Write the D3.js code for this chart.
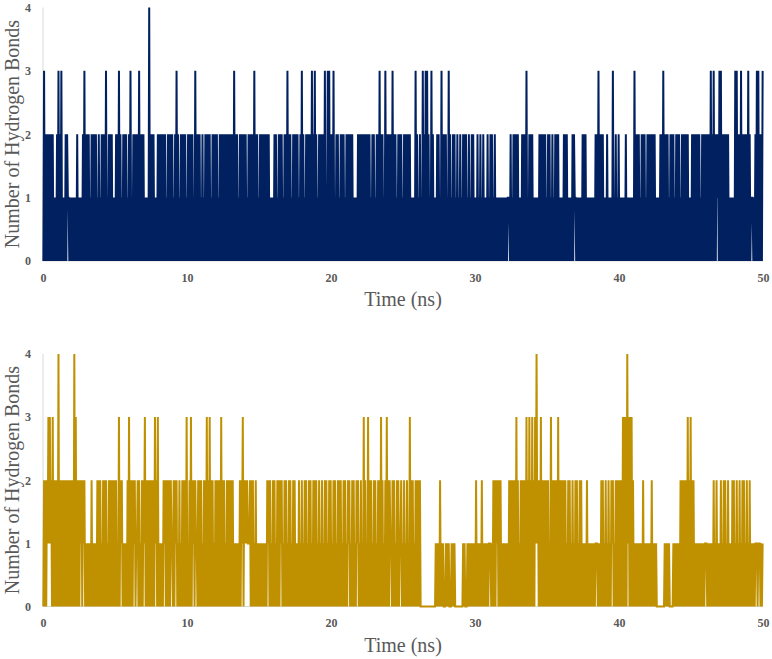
<!DOCTYPE html>
<html>
<head>
<meta charset="utf-8">
<script src="https://cdn.jsdelivr.net/npm/d3@7/dist/d3.min.js"></script>
<style>
  html, body { margin: 0; padding: 0; background: #ffffff; }
  svg { display: block; }
  text { font-family: "Liberation Serif", "Times New Roman", "DejaVu Serif", serif; }
</style>
</head>
<body>
<svg id="chart" width="772" height="659"></svg>
<script>
// ---------------- DATA ----------------
// Time resolution of the bins (ns); each bin keeps the lowest and highest
// number of hydrogen bonds seen inside it.
const timeStep = 0.1;
const xTicks = [0, 10, 20, 30, 40, 50];
const yTicks = [0, 1, 2, 3, 4];
const xLabel = "Time (ns)";
const yLabel = "Number of Hydrogen Bonds";

// Top panel (navy) - highest value per 0.1 ns bin, one row per ns
const topMax = [
  3,2,2,2,2,2,2,1,1,2,
  3,2,3,1,1,2,2,1,1,1,
  1,1,1,2,1,1,1,2,3,2,
  2,2,1,2,2,2,2,1,2,1,
  2,2,2,3,1,2,2,2,1,1,
  2,2,3,2,1,2,2,2,1,2,
  3,1,2,2,2,2,3,2,2,2,
  1,1,1,4,2,2,2,1,1,2,
  2,2,2,2,2,1,2,2,2,2,
  1,2,3,2,1,2,2,2,2,1,
  2,2,2,2,1,3,2,2,2,1,
  2,1,2,2,2,2,1,2,2,2,
  2,1,2,2,2,2,2,2,2,2,
  2,2,3,2,2,1,2,2,2,2,
  2,1,2,2,2,2,3,2,2,1,
  2,2,2,2,2,2,2,1,1,1,
  2,2,1,2,2,2,1,2,2,3,
  2,2,1,2,2,2,2,1,2,3,
  2,1,2,2,2,2,3,2,3,2,
  1,2,2,2,2,3,1,3,3,2,
  2,3,1,2,2,1,2,2,2,1,
  2,2,2,2,2,1,1,1,2,2,
  2,2,2,2,2,2,2,1,2,2,
  1,2,2,3,2,2,1,3,2,2,
  2,2,3,2,2,1,2,2,2,1,
  2,2,2,2,2,1,1,1,3,2,
  1,2,1,3,2,3,3,2,1,3,
  2,1,1,2,2,1,3,2,2,2,
  1,3,2,1,2,2,1,2,1,2,
  1,2,2,2,1,2,1,2,2,1,
  1,2,1,2,1,2,1,1,2,1,
  2,2,1,2,1,1,1,1,1,1,
  1,1,1,1,2,1,2,2,2,2,
  1,1,2,2,2,3,1,2,2,2,
  1,1,1,1,2,2,2,2,2,1,
  2,2,1,2,1,2,2,2,1,1,
  1,2,2,2,1,1,1,2,2,1,
  1,1,1,1,2,2,2,1,1,1,
  1,1,1,2,2,3,2,2,2,1,
  1,2,1,1,1,3,1,2,1,2,
  1,1,1,1,2,1,1,1,1,1,
  3,2,2,2,1,2,2,2,1,2,
  2,2,2,2,2,1,1,1,2,2,
  3,2,2,2,1,2,2,2,1,2,
  2,2,1,2,2,2,2,2,1,1,
  2,2,2,2,2,2,1,2,2,2,
  2,2,2,3,2,3,2,2,2,3,
  3,2,2,2,2,2,1,1,1,1,
  3,3,2,2,3,2,2,2,2,3,
  2,1,1,1,2,3,3,2,2,3
];
// Top panel - lowest value per bin
const topMin = [
  0,0,0,0,0,0,0,0,0,0,  0,0,0,0,0,0,0,1,0,0,
  0,0,0,0,0,0,0,0,0,0,  0,0,0,0,0,0,0,0,0,0,
  0,0,0,0,0,0,0,0,0,0,  0,0,0,0,0,0,0,0,0,0,
  0,0,0,0,0,0,0,0,0,0,  0,0,0,0,0,0,0,0,0,0,
  0,0,0,0,0,0,0,0,0,0,  0,0,0,0,0,0,0,0,0,0,
  0,0,0,0,0,0,0,0,0,0,  0,0,0,0,0,0,0,0,0,0,
  0,0,0,0,0,0,0,0,0,0,  0,0,0,0,0,0,0,0,0,0,
  0,0,0,0,0,0,0,0,0,0,  0,0,0,0,0,0,0,0,0,0,
  0,0,0,0,0,0,0,0,0,0,  0,0,0,0,0,0,0,0,0,0,
  0,0,0,0,0,0,0,0,0,0,  0,0,0,0,0,0,0,0,0,0,
  0,0,0,0,0,0,0,0,0,0,  0,0,0,0,0,0,0,0,0,0,
  0,0,0,0,0,0,0,0,0,0,  0,0,0,0,0,0,0,0,0,0,
  0,0,0,0,0,0,0,0,0,0,  0,0,0,0,0,0,0,0,0,0,
  0,0,0,0,0,0,0,0,0,0,  0,0,0,0,0,0,0,0,0,0,
  0,0,0,0,0,0,0,0,0,0,  0,0,0,0,0,0,0,0,0,0,
  0,0,0,0,0,0,0,0,0,0,  0,0,0,0,0,0,0,0,0,0,
  0,0,0,1,0,0,0,0,0,0,  0,0,0,0,0,0,0,0,0,0,
  0,0,0,0,0,0,0,0,0,0,  0,0,0,0,0,0,0,0,0,0,
  0,0,0,0,0,0,0,0,0,1,  0,0,0,0,0,0,0,0,0,0,
  0,0,0,0,0,0,0,0,0,0,  0,0,0,0,0,0,0,0,0,0,
  0,0,0,0,0,0,0,0,0,0,  0,0,0,0,0,0,0,0,0,0,
  0,0,0,0,0,0,0,0,0,0,  0,0,0,0,0,0,0,0,0,0,
  0,0,0,0,0,0,0,0,0,0,  0,0,0,0,0,0,0,0,0,0,
  0,0,0,0,0,0,0,0,1,0,  0,0,0,0,0,0,0,0,0,0,
  0,0,0,0,0,0,0,0,0,0,  0,0,1,0,0,0,0,0,0,0
];

// Bottom panel (gold) - highest value per 0.1 ns bin
const bottomMax = [
  2,2,2,3,3,2,3,2,2,2,
  4,2,2,2,2,2,2,2,2,2,
  2,4,3,2,2,2,2,2,2,1,
  1,1,1,2,1,1,1,2,2,2,
  1,2,2,2,1,2,2,2,2,2,
  2,1,3,2,2,1,1,1,2,3,
  2,2,2,2,1,2,2,1,2,2,
  3,2,2,2,2,2,2,3,2,3,
  1,1,1,2,2,2,2,2,2,1,
  2,2,2,1,2,1,2,2,2,3,
  1,2,3,2,2,2,1,2,2,2,
  1,2,2,3,2,3,2,2,1,2,
  2,2,2,3,2,2,1,2,2,2,
  2,2,1,1,1,1,2,2,3,2,
  2,2,1,2,2,2,1,2,1,1,
  1,1,1,1,1,2,2,2,1,2,
  2,1,2,2,2,2,1,2,2,1,
  2,2,1,2,2,1,1,2,1,2,
  1,2,2,1,2,2,1,2,2,2,
  1,2,1,2,1,2,2,1,2,2,
  1,2,2,1,2,2,2,1,2,2,
  1,2,2,1,2,2,1,2,2,1,
  2,1,3,2,1,3,2,2,1,2,
  2,1,2,2,3,2,1,2,3,2,
  2,1,2,2,1,2,2,1,2,1,
  2,1,2,1,3,2,2,1,2,2,
  2,2,0,0,0,0,0,0,0,0,
  0,0,1,1,1,2,1,1,0,1,
  1,1,0,1,1,1,0,0,0,0,
  0,1,1,0,1,1,1,1,1,1,
  2,1,1,1,2,1,1,1,1,1,
  1,1,2,2,2,2,2,2,1,1,
  1,1,1,2,2,2,2,2,3,2,
  1,2,2,2,2,3,2,3,2,3,
  2,3,4,2,2,3,2,2,2,2,
  2,1,3,2,2,2,2,3,2,2,
  2,2,2,1,2,2,1,2,1,2,
  2,1,2,2,1,1,1,2,1,1,
  1,1,1,1,1,1,1,2,2,1,
  2,1,2,1,2,2,1,2,2,2,
  2,2,3,3,3,4,3,3,3,2,
  1,1,1,1,1,1,2,1,1,1,
  1,1,2,1,1,1,0,0,0,0,
  0,1,1,1,1,0,0,1,1,1,
  1,1,2,2,2,2,2,3,2,3,
  2,2,1,1,1,1,1,1,1,1,
  1,1,1,1,1,2,1,2,1,1,
  2,1,2,2,1,2,1,1,2,2,
  1,2,1,2,1,2,2,1,2,1,
  2,1,1,1,1,1,1,1,1,1
];
// Bottom panel - lowest value per bin
const bottomMin = [
  0,0,0,1,1,1,0,0,0,0,  0,0,0,0,0,0,0,0,0,0,
  0,0,0,0,0,0,1,0,1,0,  0,0,0,0,0,0,0,0,0,0,
  0,0,0,0,0,0,0,0,0,0,  0,0,0,0,1,0,0,0,0,0,
  0,0,0,1,0,1,0,0,0,0,  1,0,0,0,0,0,0,0,1,0,
  0,0,0,0,1,0,0,0,0,1,  0,0,1,0,0,0,0,0,0,0,
  0,0,0,0,1,0,1,0,0,0,  0,0,0,0,0,0,0,0,0,0,
  0,0,0,0,0,0,0,0,0,0,  0,0,0,0,0,0,0,0,1,0,
  1,1,1,1,0,0,0,0,0,0,  0,0,0,0,0,0,1,0,0,0,
  0,0,0,0,0,1,0,0,0,0,  0,0,0,0,0,0,0,0,0,0,
  0,0,0,0,0,0,0,0,0,0,  0,0,0,0,0,0,0,0,0,0,
  0,0,0,0,0,0,0,0,0,0,  0,0,1,0,0,0,0,0,1,0,
  0,0,0,0,0,0,0,0,0,0,  0,0,0,0,0,0,0,0,0,0,
  0,1,0,0,0,0,0,0,1,0,  0,0,0,0,0,0,0,0,0,0,
  0,0,0,0,0,0,0,0,0,0,  0,0,0,0,0,0,0,0,0,0,
  0,0,0,0,0,0,0,0,0,0,  0,0,0,0,0,0,0,0,0,0,
  0,0,0,0,0,0,0,0,0,0,  1,0,0,0,0,1,0,0,0,0,
  0,0,0,0,0,0,0,0,0,0,  0,0,0,0,0,0,0,0,0,0,
  0,0,1,1,0,0,0,0,0,0,  0,0,0,0,0,0,0,0,0,0,
  0,0,0,0,0,0,0,0,0,0,  0,0,0,0,0,0,0,0,0,0,
  0,0,0,0,1,0,0,0,0,0,  0,0,0,0,0,1,0,0,0,0,
  0,0,0,0,0,0,1,0,0,0,  0,0,0,0,0,0,0,0,0,0,
  0,0,0,0,0,0,0,0,0,0,  0,0,0,0,0,0,0,0,0,0,
  0,0,0,0,0,0,0,0,0,0,  0,0,0,0,0,0,0,0,0,0,
  1,0,0,0,0,0,0,0,0,0,  0,0,0,0,0,0,0,0,0,0,
  0,0,0,0,0,0,0,0,0,0,  0,0,0,0,0,1,0,1,0,0
];

// ---------------- DRAWING ----------------
const svg = d3.select("#chart");
const x = d3.scaleLinear().domain([0, 50]).range([43, 763]);

const panels = [
  { max: topMax, min: topMin, color: "#002060", y0: 261, y4: 7.5, titleY: 134, xLabelY: 305.5 },
  { max: bottomMax, min: bottomMin, color: "#BF9000", y0: 606.5, y4: 354, titleY: 480, xLabelY: 651.5 }
];

const fontFamily = "Liberation Serif, Times New Roman, DejaVu Serif, serif";
const textColor = "#595959";

panels.forEach(p => {
  const y = d3.scaleLinear().domain([0, 4]).range([p.y0, p.y4]);
  const g = svg.append("g");

  // light axis lines
  g.append("line")
    .attr("x1", x(0)).attr("x2", x(0))
    .attr("y1", y(4)).attr("y2", y(0))
    .attr("stroke", "#d9d9d9").attr("stroke-width", 1);
  g.append("line")
    .attr("x1", x(0)).attr("x2", x(50))
    .attr("y1", y(0)).attr("y2", y(0))
    .attr("stroke", "#d9d9d9").attr("stroke-width", 1);

  // series: inside each bin the count swings between its min and max
  const pts = [];
  p.max.forEach((v, i) => {
    const t = i * timeStep;
    pts.push([t + timeStep * 0.25, p.min[i]]);
    pts.push([t + timeStep * 0.75, v]);
  });
  const line = d3.line().x(d => x(d[0])).y(d => y(d[1]));
  g.append("path")
    .datum(pts)
    .attr("d", line)
    .attr("fill", "none")
    .attr("stroke", p.color)
    .attr("stroke-width", 2);

  // x axis labels
  const ax = g.append("g")
    .attr("transform", `translate(0,${y(0)})`)
    .call(d3.axisBottom(x).tickValues(xTicks).tickSize(0).tickPadding(12).tickFormat(d3.format("d")));
  ax.select(".domain").remove();
  ax.attr("font-family", null);
  ax.selectAll("text")
    .style("font-family", fontFamily).attr("font-size", 12).attr("font-weight", "bold")
    .attr("fill", textColor);

  // y axis labels
  const ay = g.append("g")
    .attr("transform", `translate(${x(0)},0)`)
    .call(d3.axisLeft(y).tickValues(yTicks).tickSize(0).tickPadding(12).tickFormat(d3.format("d")));
  ay.select(".domain").remove();
  ay.attr("font-family", null);
  ay.selectAll("text")
    .style("font-family", fontFamily).attr("font-size", 12).attr("font-weight", "bold")
    .attr("fill", textColor);

  // axis titles
  g.append("text")
    .attr("x", 403).attr("y", p.xLabelY)
    .attr("text-anchor", "middle")
    .style("font-family", fontFamily).attr("font-size", 20)
    .attr("fill", textColor)
    .text(xLabel);
  g.append("text")
    .attr("transform", `translate(18.5,${p.titleY}) rotate(-90)`)
    .attr("text-anchor", "middle")
    .style("font-family", fontFamily).attr("font-size", 20)
    .attr("fill", textColor)
    .text(yLabel);
});
</script>
</body>
</html>
